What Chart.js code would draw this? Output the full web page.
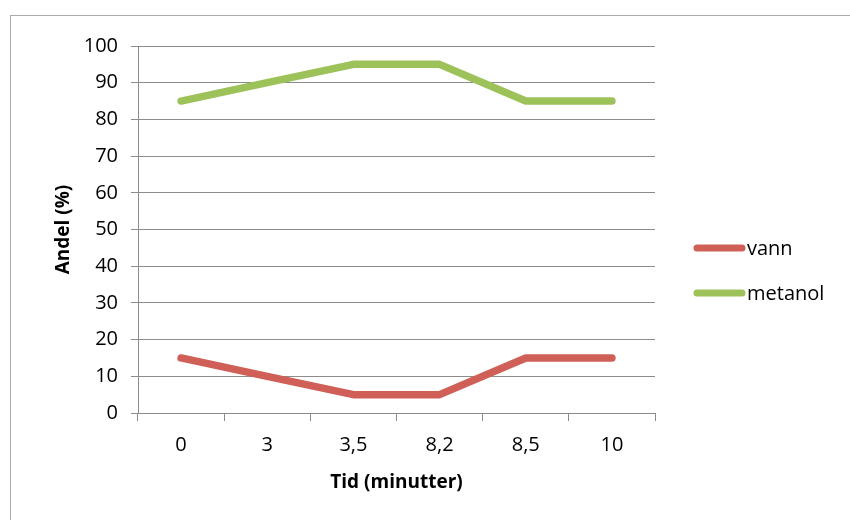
<!DOCTYPE html>
<html>
<head>
<meta charset="utf-8">
<script src="https://cdn.jsdelivr.net/npm/chart.js@4"></script>
<style>
  html, body { margin: 0; padding: 0; background: #fff; }
  #wrap { width: 850px; height: 520px; }
</style>
</head>
<body>
<div id="wrap"><canvas id="andelChart" width="850" height="520"></canvas></div>
<script>
var tid = ['0', '3', '3,5', '8,2', '8,5', '10'];
var vann = [15, 10, 5, 5, 15, 15];
var metanol = [85, 90, 95, 95, 85, 85];
var yTicks = [0, 10, 20, 30, 40, 50, 60, 70, 80, 90, 100];

Chart.defaults.font.family = '"Open Sans"';
Chart.defaults.color = '#000';

// grey frame round the whole chart, like the Excel chart area
var frame = {
    id: 'frame',
    beforeDraw: function (chart) {
        var c = chart.ctx;
        c.save();
        c.strokeStyle = '#ABABAB';
        c.lineWidth = 1;
        c.strokeRect(10.5, 15.5, 900, 600);
        c.restore();
    }
};

// legend with long line swatches on the right
var sideLegend = {
    id: 'sideLegend',
    afterDraw: function (chart) {
        var c = chart.ctx;
        var rows = [248, 293];
        c.save();
        chart.data.datasets.forEach(function (ds, i) {
            c.strokeStyle = ds.borderColor;
            c.lineWidth = 7;
            c.lineCap = 'round';
            c.beginPath();
            c.moveTo(697, rows[i]);
            c.lineTo(742, rows[i]);
            c.stroke();
            c.fillStyle = '#000';
            c.font = '20px "Open Sans"';
            c.textBaseline = 'middle';
            c.fillText(ds.label, 747, rows[i] + 1);
        });
        c.restore();
    }
};

var ctx = document.getElementById('andelChart');
var myChart = new Chart(ctx, {
    type: 'line',
    data: {
        labels: tid,
        datasets: [
            {
                label: 'vann',
                data: vann,
                borderColor: '#CF5F57',
                backgroundColor: '#CF5F57',
            },
            {
                label: 'metanol',
                data: metanol,
                borderColor: '#9DC25A',
                backgroundColor: '#9DC25A',
            },
        ]
    },
    options: {
        responsive: false,
        animation: false,
        layout: {
            padding: { left: 52, right: 195, top: 46, bottom: 26 },
        },
        elements: {
            line: {
                borderWidth: 7.5,
                tension: 0,
                borderCapStyle: 'round',
                borderJoinStyle: 'bevel',
            },
            point: {
                radius: 0,
                hoverRadius: 0,
            },
        },
        plugins: {
            legend: { display: false },
            tooltip: { enabled: false },
        },
        scales: {
            x: {
                offset: true,
                grid: {
                    offset: true,
                    drawOnChartArea: false,
                    drawTicks: true,
                    tickLength: 8,
                    color: '#8C8C8C',
                },
                border: { color: '#8C8C8C' },
                ticks: {
                    font: { size: 20 },
                    padding: 12,
                    maxRotation: 0,
                },
                title: {
                    display: true,
                    text: 'Tid (minutter)',
                    font: { size: 19, weight: 'bold' },
                    padding: 0,
                },
                afterFit: function (scale) {
                    scale.height = 81;
                },
            },
            y: {
                min: 0,
                max: 100,
                afterBuildTicks: function (scale) {
                    scale.ticks = yTicks.map(function (v) { return { value: v }; });
                },
                grid: {
                    color: '#8C8C8C',
                    tickLength: 7,
                },
                border: { color: '#8C8C8C' },
                ticks: {
                    font: { size: 20 },
                    padding: 13,
                },
                title: {
                    display: true,
                    text: 'Andel (%)',
                    font: { size: 19, weight: 'bold' },
                    padding: 0,
                },
                afterFit: function (scale) {
                    scale.width = 86;
                },
            },
        },
    },
    plugins: [frame, sideLegend],
});
</script>
</body>
</html>
